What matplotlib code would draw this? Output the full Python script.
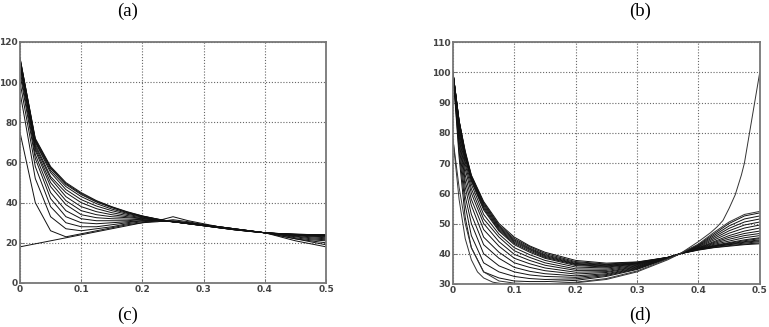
import numpy as np
import matplotlib
matplotlib.use("Agg")
import matplotlib.pyplot as plt

# panel (c): piecewise curves sampled every 0.025
xc = [0, 0.025, 0.05, 0.075, 0.1, 0.125, 0.15, 0.175, 0.2, 0.225, 0.25,
      0.275, 0.3, 0.325, 0.35, 0.375, 0.4, 0.425, 0.45, 0.475, 0.5]
curves_c = [
    [18, 19.5, 21, 22.5, 24, 25.5, 27, 28.5, 30, 31, 33, 31, 29.5, 28, 27, 26, 25, 23, 21, 19.5, 18],
    [75, 40, 26, 23, 24.5, 26, 27.5, 29, 30, 30.5, 31.5, 30.5, 29, 28, 27, 26, 25, 23.5, 22, 20.5, 19],
    [95, 52, 33, 27, 26, 27, 28, 29.5, 30.5, 31, 31, 30, 29, 28, 27, 26, 25, 23.5, 22, 21, 20],
    [100, 58, 38, 30, 28, 28, 29, 30, 31, 31, 30.5, 30, 29, 28, 27, 26, 25, 24, 22.5, 21.5, 21],
    [104, 62, 42, 33, 30, 29.5, 30, 30.5, 31, 31, 30.5, 29.8, 29, 28, 27, 26, 25, 24, 23, 22, 21.5],
    [106, 64, 45, 36, 32, 31, 31, 31, 31.5, 31, 30.5, 29.7, 28.8, 27.8, 26.8, 25.9, 25, 24.2, 23.3, 22.5, 22],
    [108, 66, 48, 39, 34, 32.5, 32, 31.8, 31.5, 31, 30.5, 29.7, 28.8, 27.8, 26.8, 25.9, 25, 24.3, 23.6, 23, 22.5],
    [109, 67, 50, 41, 36, 34, 33, 32.5, 32, 31.2, 30.5, 29.6, 28.7, 27.7, 26.8, 25.9, 25, 24.4, 23.8, 23.3, 23],
    [110, 68, 52, 43, 38, 35.5, 34, 33, 32.2, 31.3, 30.5, 29.6, 28.7, 27.7, 26.7, 25.9, 25, 24.5, 24, 23.5, 23.3],
    [110, 69, 53, 45, 40, 37, 35, 33.6, 32.5, 31.4, 30.5, 29.6, 28.6, 27.6, 26.7, 25.8, 25, 24.5, 24, 23.7, 23.5],
    [111, 70, 55, 46.5, 41.5, 38.3, 36, 34.2, 32.8, 31.5, 30.5, 29.5, 28.6, 27.6, 26.6, 25.8, 25, 24.5, 24.1, 23.8, 23.6],
    [111, 70.5, 56, 48, 43, 39.5, 36.8, 34.7, 33, 31.6, 30.5, 29.5, 28.5, 27.5, 26.6, 25.8, 25, 24.5, 24.2, 23.9, 23.8],
    [112, 71, 57, 49, 44, 40.3, 37.5, 35, 33.2, 31.7, 30.5, 29.5, 28.5, 27.5, 26.5, 25.7, 25, 24.6, 24.2, 24, 23.9],
    [112, 71.5, 57.5, 49.5, 44.5, 40.7, 37.8, 35.3, 33.3, 31.8, 30.5, 29.5, 28.5, 27.5, 26.5, 25.7, 25, 24.6, 24.3, 24.1, 24],
    [112, 72, 58, 50, 45, 41, 38, 35.5, 33.4, 31.8, 30.5, 29.5, 28.5, 27.5, 26.5, 25.7, 25, 24.6, 24.3, 24.1, 24],
]

# panel (d): smooth curves, sampled at these points
xd = [0, 0.01, 0.02, 0.03, 0.05, 0.075, 0.1, 0.125, 0.15, 0.2, 0.25,
      0.3, 0.35, 0.37, 0.4, 0.425, 0.45, 0.475, 0.5]
d_at = {
    0.0: [100] * 16,
    0.01: [72, 74, 76, 77.5, 79, 80, 81, 82, 82.5, 83, 83.3, 83.5, 83.8, 84, 84, 84],
    0.02: [52, 56, 59, 62, 64, 66, 68, 69.5, 70.5, 71.5, 72, 72.5, 73, 73.3, 73.6, 74],
    0.03: [42, 46, 50, 53, 56, 58, 60, 61.5, 63, 64, 64.4, 64.8, 65.2, 65.5, 65.8, 66],
    0.05: [34, 37, 40, 43, 45.5, 48, 50, 51.5, 53, 54.5, 55, 55.5, 56, 56.5, 56.9, 57.3],
    0.075: [32, 34, 36, 38.5, 40.5, 42.5, 44, 45.5, 46.5, 47.5, 47.9, 48.3, 48.7, 49.1, 49.5, 50],
    0.1: [31, 32.5, 34, 35.5, 37, 38.5, 39.8, 41, 42, 43, 43.4, 43.8, 44.2, 44.6, 45, 45.5],
    0.125: [30.8, 31.8, 33, 34.2, 35.5, 36.7, 37.8, 38.8, 39.7, 40.5, 40.9, 41.3, 41.6, 41.9, 42.3, 42.6],
    0.15: [30.8, 31.5, 32.5, 33.4, 34.4, 35.3, 36.2, 37, 37.8, 38.5, 38.8, 39.1, 39.4, 39.7, 40.1, 40.5],
    0.2: [31.2, 31.7, 32.2, 32.7, 33.3, 33.9, 34.5, 35, 35.6, 36.1, 36.4, 36.6, 36.8, 37.1, 37.4, 37.8],
    0.25: [32.5, 32.8, 33.1, 33.4, 33.8, 34.1, 34.5, 34.9, 35.3, 35.6, 35.8, 36, 36.2, 36.4, 36.6, 36.9],
    0.3: [34.8, 35, 35.2, 35.4, 35.6, 35.8, 36, 36.2, 36.4, 36.6, 36.7, 36.8, 36.9, 37, 37.2, 37.3],
    0.35: [38.5, 38.5, 38.5, 38.5, 38.5, 38.5, 38.6, 38.6, 38.6, 38.7, 38.7, 38.7, 38.8, 38.8, 38.8, 38.8],
    0.37: [40] * 16,
    0.4: [43, 42.8, 42.6, 42.4, 42.2, 42, 41.9, 41.8, 41.7, 41.6, 41.55, 41.5, 41.45, 41.4, 41.3, 41.2],
    0.425: [46.5, 46, 45.5, 45, 44.5, 44, 43.7, 43.4, 43.1, 42.8, 42.6, 42.5, 42.4, 42.3, 42.1, 42],
    0.45: [50, 49.2, 48.4, 47.6, 46.8, 46, 45.4, 44.8, 44.2, 43.7, 43.5, 43.3, 43.1, 43, 42.7, 42.5],
    0.475: [52.5, 51.5, 50.5, 49.5, 48.5, 47.5, 46.7, 46, 45.3, 44.6, 44.3, 44, 43.8, 43.5, 43.2, 43],
    0.5: [53.5, 52.5, 51.5, 50.5, 49.5, 48.5, 47.5, 46.7, 46, 45.3, 45, 44.6, 44.3, 44, 43.6, 43.3],
}
d_low = [78, 62, 50, 42, 34, 31, 30.3, 30.1, 30.1, 30.6, 31.8, 34.3, 38.3, 40, 43.2, 47, 50.5, 53, 54]
xe = [0, 0.01, 0.02, 0.03, 0.04, 0.05, 0.065, 0.08, 0.1, 0.15, 0.2, 0.25, 0.3,
      0.35, 0.37, 0.4, 0.42, 0.43, 0.44, 0.45, 0.46, 0.47, 0.475, 0.48, 0.485,
      0.49, 0.495, 0.5]
d_edge = [78, 58, 45, 38, 34, 32, 30.6, 30.1, 30, 30, 30.4, 31.5, 34, 38, 40,
          44, 47, 48.8, 51, 55, 59.5, 66, 70, 76, 82, 88, 94, 100]

xticks = [0, 0.1, 0.2, 0.3, 0.4, 0.5]
xlabels = ["0", "0.1", "0.2", "0.3", "0.4", "0.5"]

fig = plt.figure(figsize=(7.69, 3.27), dpi=100)
ax1 = fig.add_axes([0.026, 0.1346, 0.398, 0.737])
ax2 = fig.add_axes([0.589, 0.1315, 0.399, 0.740])


def style(ax, ymax, ystep, ymin):
    ax.set_xlim(0, 0.5)
    ax.set_ylim(ymin, ymax)
    ax.set_xticks(xticks)
    ax.set_xticklabels(xlabels)
    ax.set_yticks(np.arange(ymin, ymax + 1, ystep))
    ax.grid(True, linestyle=(0, (1, 1.6)), color="#666666", linewidth=0.8)
    ax.tick_params(direction="in", length=3, width=0.6, colors="#666666",
                   labelsize=6.5, labelcolor="#444444", pad=1.5)
    for lab in ax.get_xticklabels() + ax.get_yticklabels():
        lab.set_fontweight("bold")
    for s in ax.spines.values():
        s.set_color("#777777")
        s.set_linewidth(1.3)


for c in curves_c:
    ax1.plot(xc, c, color="#111111", linewidth=0.7)
style(ax1, 120, 20, 0)

for k in range(16):
    ax2.plot(xd, [d_at[x][k] for x in xd], color="#111111", linewidth=0.7)
ax2.plot(xd, d_low, color="#333333", linewidth=0.7)
ax2.plot(xe, d_edge, color="#333333", linewidth=0.7)
style(ax2, 110, 10, 30)

for txt, x, y in [("(a)", 0.166, 0.965), ("(b)", 0.832, 0.965),
                  ("(c)", 0.166, 0.035), ("(d)", 0.832, 0.035)]:
    fig.text(x, y, txt, ha="center", va="center", fontsize=13.5,
             family="Liberation Serif")

plt.savefig("out.png", dpi=100)
